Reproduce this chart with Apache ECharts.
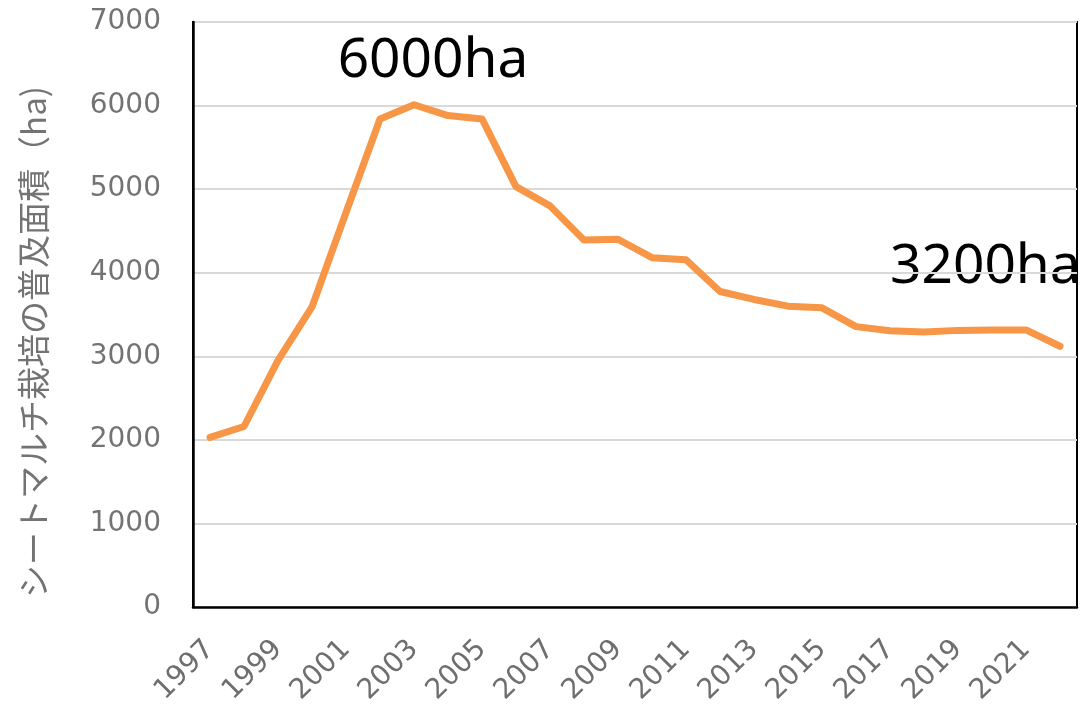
<!DOCTYPE html>
<html>
<head>
<meta charset="utf-8">
<script src="https://cdn.jsdelivr.net/npm/echarts@6/dist/echarts.min.js"></script>
<style>
html,body{margin:0;padding:0;background:#fff;}
#chart{width:1080px;height:704px;}
</style>
</head>
<body>
<div id="chart"></div>
<script>
var years = ['1997','1998','1999','2000','2001','2002','2003','2004','2005','2006','2007','2008','2009','2010','2011','2012','2013','2014','2015','2016','2017','2018','2019','2020','2021','2022'];
var area = [2030,2160,2950,3590,4720,5840,6010,5880,5840,5030,4800,4390,4400,4180,4155,3775,3680,3600,3580,3355,3305,3290,3310,3315,3315,3120];
var yTicks = [0,1000,2000,3000,4000,5000,6000,7000];
var yAxisTitle = 'シートマルチ栽培の普及面積（ha)';
var notePeak = '6000ha';
var noteNow = '3200ha';

var chart = echarts.init(document.getElementById('chart'), null, {renderer:'canvas'});
chart.setOption({
  animation:false,
  backgroundColor:'#fff',
  grid:{left:193,right:3,top:22,bottom:97,containLabel:false,outerBoundsMode:'none',show:true,borderColor:'#000',borderWidth:2,backgroundColor:'transparent'},
  xAxis:{
    type:'category',
    data:years,
    boundaryGap:true,
    axisLine:{show:true,lineStyle:{color:'#000',width:2.5}},
    axisTick:{show:false},
    axisLabel:{
      interval:1,
      rotate:45,
      margin:38,
      color:'#6e6e6e',
      fontFamily:'DejaVu Sans',
      fontSize:28
    },
    splitLine:{show:false}
  },
  yAxis:{
    type:'value',
    min:yTicks[0],
    max:yTicks[yTicks.length-1],
    interval:1000,
    axisLine:{show:true,lineStyle:{color:'#000',width:2.5}},
    axisTick:{show:false},
    axisLabel:{margin:32,color:'#737373',fontFamily:'DejaVu Sans',fontSize:28,formatter:function(v){return String(v);}},
    splitLine:{show:true,lineStyle:{color:'#d9d9d9',width:2}}
  },
  graphic:[
    {type:'text',x:33,y:342,rotation:Math.PI/2,
     style:{text:yAxisTitle,fill:'#737373',font:'33px "Noto Sans CJK JP"',textAlign:'center',textVerticalAlign:'middle'}},
    {type:'text',x:433,y:61,
     style:{text:notePeak,fill:'#000',font:'55px "Noto Sans"',textAlign:'center',textVerticalAlign:'middle'}},
    {type:'text',x:890,y:267,
     style:{text:noteNow,fill:'#000',font:'55px "Noto Sans"',textAlign:'left',textVerticalAlign:'middle'}}
  ],
  series:[{
    type:'line',
    data:area,
    showSymbol:false,
    symbol:'none',
    lineStyle:{color:'#F79646',width:7,join:'round',cap:'round'},
    itemStyle:{color:'#F79646'}
  }]
});
</script>
</body>
</html>
